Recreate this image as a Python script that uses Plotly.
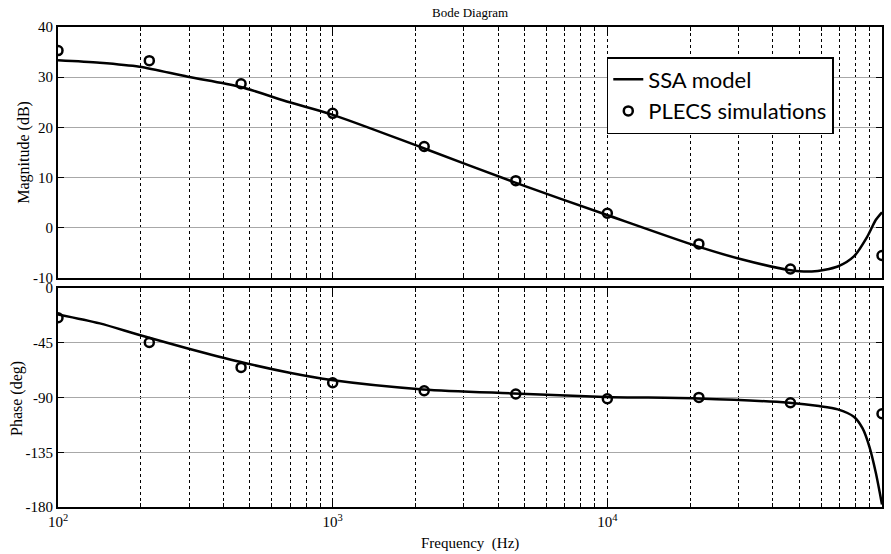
import plotly.graph_objects as go

# SSA model curve
model_freq = [100, 142, 198, 297, 459, 697, 990, 2133, 4568, 9800, 21300,
              30500, 45900, 55500, 69000, 79000, 88500, 95000, 100000]
model_mag = [33.4, 32.9, 32.1, 30.1, 28.1, 25.0, 22.6, 15.9, 9.1, 2.7, -3.7,
             -6.2, -8.4, -8.7, -7.7, -5.7, -1.7, 1.6, 3.1]

model_pfreq = [100, 142, 198, 297, 459, 697, 990, 2133, 4568, 9800, 21300,
               45900, 59000, 69000, 79000, 85000, 90000, 95000, 100000]
model_phase = [-21.6, -29.0, -38.6, -49.6, -60.6, -69.6, -75.6, -83.3, -86.6,
               -89.5, -90.7, -94.3, -97.0, -99.7, -105.8, -115.4, -130.5, -152.0, -178.0]

# PLECS simulation points
sim_freq = [100, 215, 464, 1000, 2154, 4642, 10000, 21544, 46416, 100000]
sim_mag = [35.3, 33.3, 28.7, 22.8, 16.2, 9.4, 2.9, -3.2, -8.2, -5.5]
sim_phase = [-24.4, -44.7, -65.2, -77.8, -84.4, -87.1, -91.0, -89.9, -94.3, -103.3]

mag_ticks = [-10, 0, 10, 20, 30, 40]
phase_ticks = [-180, -135, -90, -45, 0]
minor_vals = [m * 10 ** e for e in (2, 3, 4) for m in range(2, 10)]

SERIF = "Liberation Serif, Times New Roman, serif"

fig = go.Figure()
fig.add_trace(go.Scatter(x=model_freq, y=model_mag, mode="lines", name="SSA model",
                         line=dict(color="black", width=2.5, shape="spline", smoothing=0.8),
                         xaxis="x2", yaxis="y2"))
fig.add_trace(go.Scatter(x=sim_freq, y=sim_mag, mode="markers", name="PLECS simulations",
                         marker=dict(symbol="circle-open", size=9, color="black",
                                     line=dict(width=2.5, color="black")),
                         xaxis="x2", yaxis="y2"))
fig.add_trace(go.Scatter(x=model_pfreq, y=model_phase, mode="lines", showlegend=False,
                         line=dict(color="black", width=2.5, shape="spline", smoothing=0.8),
                         xaxis="x", yaxis="y"))
fig.add_trace(go.Scatter(x=sim_freq, y=sim_phase, mode="markers", showlegend=False,
                         marker=dict(symbol="circle-open", size=9, color="black",
                                     line=dict(width=2.5, color="black")),
                         xaxis="x", yaxis="y"))

xcommon = dict(type="log", range=[2, 5], showline=True, linecolor="black", linewidth=2,
               mirror="ticks", ticks="inside", ticklen=6, tickcolor="black",
               showgrid=True, gridcolor="black", griddash="dot", gridwidth=1,
               tickvals=[100, 1000, 10000, 100000], exponentformat="power",
               automargin=False,
               minor=dict(tickvals=minor_vals, ticks="inside", ticklen=4, tickcolor="black",
                          showgrid=True, gridcolor="black", griddash="dot", gridwidth=1),
               zeroline=False, tickfont=dict(family=SERIF, size=15, color="black"))
ycommon = dict(showline=True, linecolor="black", linewidth=2, mirror="ticks",
               ticks="inside", ticklen=6, tickcolor="black", showgrid=True,
               gridcolor="#a8a8a8", gridwidth=1, zeroline=False, automargin=False,
               tickfont=dict(family=SERIF, size=15, color="black"))

fig.update_layout(
    width=891, height=554,
    margin=dict(l=58, r=9, t=27, b=47, autoexpand=False),
    paper_bgcolor="white", plot_bgcolor="white",
    xaxis=dict(xcommon, domain=[0, 1], anchor="y",
               ticktext=["10<sup>2</sup>", "10<sup>3</sup>", "10<sup>4</sup>", "10<sup>5</sup>"]),
    xaxis2=dict(xcommon, domain=[0, 1], anchor="y2", matches="x", showticklabels=False),
    yaxis=dict(ycommon, domain=[0, 0.456], range=[-180, 0], tickvals=phase_ticks,
               ticktext=[str(v) for v in phase_ticks]),
    yaxis2=dict(ycommon, domain=[0.477, 1], range=[-10, 40], tickvals=mag_ticks,
                ticktext=[str(v) for v in mag_ticks]),
    showlegend=True,
    legend=dict(x=0.666, y=0.9375, xanchor="left", yanchor="top",
                bgcolor="white", bordercolor="black", borderwidth=1.5,
                font=dict(family="Lato, Carlito, Open Sans, sans-serif", size=22, color="black"),
                tracegroupgap=2),
    annotations=[
        dict(text="Bode Diagram", xref="paper", yref="paper", x=0.5, y=1.0, yshift=15,
             xanchor="center", yanchor="middle",
             showarrow=False, font=dict(family=SERIF, size=13, color="black")),
        dict(text="Magnitude (dB)", xref="paper", yref="paper", x=-0.0413, y=0.74,
             xanchor="center", yanchor="middle",
             textangle=-90, showarrow=False, font=dict(family=SERIF, size=16, color="black")),
        dict(text="Phase (deg)", xref="paper", yref="paper", x=-0.0498, y=0.227,
             xanchor="center", yanchor="middle",
             textangle=-90, showarrow=False, font=dict(family=SERIF, size=16, color="black")),
        dict(text="Frequency\u00a0\u00a0(Hz)", xref="paper", yref="paper", x=0.5, y=0,
             yshift=-36, xanchor="center", yanchor="middle",
             showarrow=False, font=dict(family=SERIF, size=15, color="black")),
    ],
)

fig.write_html("out.html", config={"displayModeBar": False},
               post_script="document.body.style.margin='0';")
